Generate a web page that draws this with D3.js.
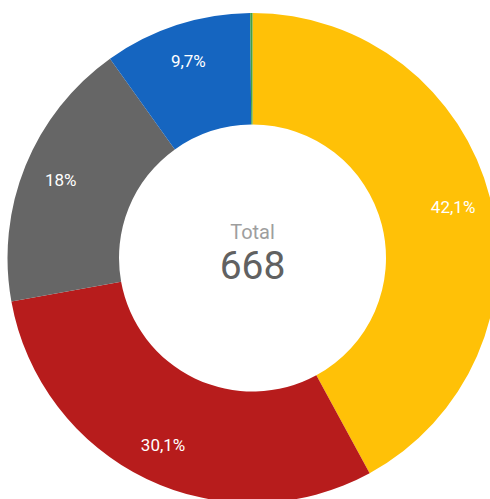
<!DOCTYPE html>
<html><head><meta charset="utf-8">
<script src="https://cdn.jsdelivr.net/npm/d3@7"></script>
<style>html,body{margin:0;padding:0;background:#fff;overflow:hidden}</style>
</head><body>
<svg id="c" width="490" height="499"></svg>
<script>
const categories = ["A", "B", "C", "D", "E"];
const values = [281, 201, 120, 65, 1];
const labels = ["42,1%", "30,1%", "18%", "9,7%", ""];
const colors = ["#FFC107", "#B71C1C", "#666666", "#1565C0", "#43A047"];
const totalLabel = "Total";
const totalValue = "668";

const svg = d3.select("#c");
const cx = 252.5, cy = 258, R = 245, r = 133.5, lr = 207;
const g = svg.append("g").attr("transform", `translate(${cx},${cy})`);
const pie = d3.pie().sort(null).value(d => d)(values);
const arc = d3.arc().innerRadius(r).outerRadius(R);
const larc = d3.arc().innerRadius(lr).outerRadius(lr);
g.selectAll("path").data(pie).join("path")
  .attr("d", arc).attr("fill", (d, i) => colors[i]);
g.selectAll("text.l").data(pie).join("text").attr("class", "l")
  .attr("transform", d => `translate(${larc.centroid(d)})`)
  .attr("text-anchor", "middle").attr("dy", "0.35em")
  .attr("fill", "#fff").attr("font-family", "Roboto").attr("font-size", 17)
  .text((d, i) => labels[i]);
g.append("text").attr("x", 0).attr("y", -19).attr("text-anchor", "middle")
  .attr("font-family", "Roboto").attr("font-size", 20).attr("fill", "#9E9E9E").text(totalLabel);
g.append("text").attr("x", 0).attr("y", 21).attr("text-anchor", "middle")
  .attr("font-family", "Roboto").attr("font-size", 39).attr("fill", "#616161").text(totalValue);
</script>
</body></html>
